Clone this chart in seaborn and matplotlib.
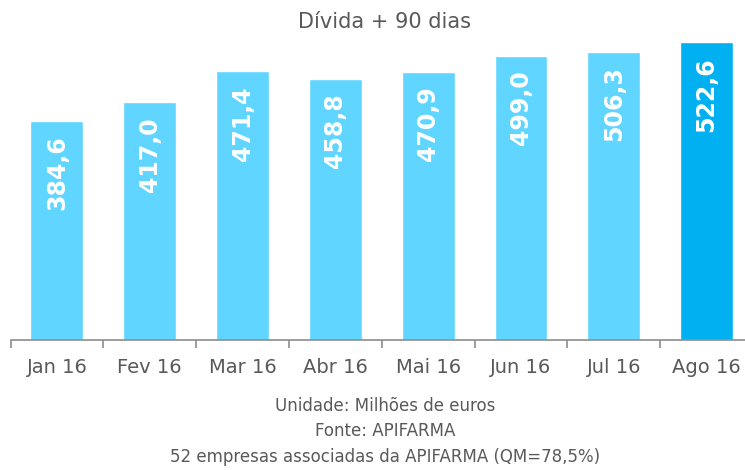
import numpy as np
import pandas as pd
import seaborn as sns
import matplotlib.pyplot as plt

months = ['Jan 16', 'Fev 16', 'Mar 16', 'Abr 16', 'Mai 16', 'Jun 16', 'Jul 16', 'Ago 16']
values = [384.6, 417.0, 471.4, 458.8, 470.9, 499.0, 506.3, 522.6]
labels = ['384,6', '417,0', '471,4', '458,8', '470,9', '499,0', '506,3', '522,6']
bar_colors = ['#5FD5FF'] * 7 + ['#00B0F0']

footer = ['Unidade: Milhões de euros',
          'Fonte: APIFARMA',
          '52 empresas associadas da APIFARMA (QM=78,5%)']

sns.set_style('white')
plt.rcParams['font.family'] = ['DejaVu Sans']
grey = '#595959'

df = pd.DataFrame({'mes': months, 'valor': values})

fig = plt.figure(figsize=(7.45, 4.70), dpi=100)
# axes runs a bit past the right edge, like the original
ax = fig.add_axes([10.5 / 745, (470 - 340) / 470, 742.5 / 745, 319 / 470])

sns.barplot(data=df, x='mes', y='valor', hue='mes', palette=bar_colors,
            legend=False, width=0.57, saturation=1, ax=ax)

ax.set_xlim(-0.5, len(months) - 0.5)
ax.set_ylim(0, 560)
ax.set_xlabel('')
ax.set_ylabel('')
ax.set_yticks([])

# bar value labels, rotated, inside the top of each bar
for i, (v, lab) in enumerate(zip(values, labels)):
    ax.annotate(lab, (i, v), xytext=(0, -10.5), textcoords='offset points',
                rotation=90, ha='center', va='top', color='white',
                fontsize=17, fontweight='heavy')

for s in ['top', 'right', 'left']:
    ax.spines[s].set_visible(False)
ax.spines['bottom'].set_color('#8C8C8C')
ax.spines['bottom'].set_linewidth(1.2)

ax.set_xticks(np.arange(len(months)))
ax.set_xticklabels(months, fontsize=14, color=grey)
ax.tick_params(axis='x', which='major', length=0, pad=13)
ax.set_xticks(np.arange(len(months) + 1) - 0.5, minor=True)
ax.tick_params(axis='x', which='minor', bottom=True, length=6, width=1.2,
               color='#8C8C8C', direction='out')

fig.text(385 / 745, 1 - 22 / 470, 'Dívida + 90 dias', ha='center', va='center',
         fontsize=15, color=grey)

for k, line in enumerate(footer):
    fig.text(385 / 745, 1 - (406 + 25.5 * k) / 470, line, ha='center', va='center',
             fontsize=12, color=grey)

fig.savefig('out.png', dpi=100)
